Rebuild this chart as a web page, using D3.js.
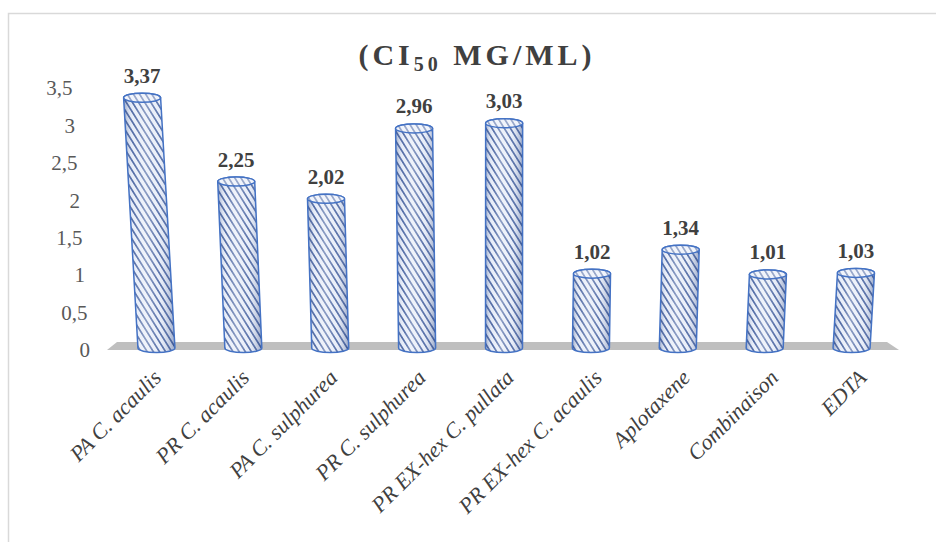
<!DOCTYPE html>
<html>
<head>
<meta charset="utf-8">
<script src="https://cdn.jsdelivr.net/npm/d3@7"></script>
<style>
  html, body { margin: 0; padding: 0; background: #ffffff; }
  svg { display: block; }
</style>
</head>
<body>
<svg id="chart" width="936" height="542"></svg>
<script>
// IC50 values (mg/mL) per extract / compound
const categories = [
  "PA C. acaulis", "PR C. acaulis", "PA C. sulphurea", "PR C. sulphurea",
  "PR EX-hex C. pullata", "PR EX-hex C. acaulis", "Aplotaxene", "Combinaison", "EDTA"
];
const values = [3.37, 2.25, 2.02, 2.96, 3.03, 1.02, 1.34, 1.01, 1.03];
const yTicks = [0, 0.5, 1, 1.5, 2, 2.5, 3, 3.5];

const svg = d3.select("#chart");
const W = 936, H = 542;
const serif = "'Liberation Serif', 'Times New Roman', serif";
const comma = s => s.replace(".", ",");

// chart frame
svg.append("rect").attr("width", W).attr("height", H).attr("fill", "#ffffff");
svg.append("rect")
  .attr("x", 8.5).attr("y", 13.5).attr("width", W + 50).attr("height", H + 50)
  .attr("fill", "none").attr("stroke", "#d9d9d9").attr("stroke-width", 1.5);

// scales
const y = d3.scaleLinear().domain([0, 3.5]).range([350, 88]);
const x = d3.scaleBand().domain(categories).range([113, 895]).paddingInner(0).paddingOuter(0);

// defs: hatch pattern and cylinder shading
const defs = svg.append("defs");
const pat = defs.append("pattern")
  .attr("id", "hatch").attr("patternUnits", "userSpaceOnUse")
  .attr("width", 5.2).attr("height", 10)
  .attr("patternTransform", "rotate(-32)");
pat.append("rect").attr("width", 5.2).attr("height", 10).attr("fill", "#e6ecf8");
pat.append("rect").attr("x", 0).attr("width", 1.7).attr("height", 10).attr("fill", "#44609f");

const shade = defs.append("linearGradient").attr("id", "shade")
  .attr("x1", "0").attr("x2", "1").attr("y1", "0").attr("y2", "0");
[[0, "#1f3a7a", 0.4], [0.18, "#ffffff", 0.08], [0.42, "#ffffff", 0.38],
 [0.7, "#ffffff", 0.12], [1, "#1f3a7a", 0.4]].forEach(([o, c, a]) =>
  shade.append("stop").attr("offset", o).attr("stop-color", c).attr("stop-opacity", a));

// floor
const fx0 = x.range()[0], fx1 = x.range()[1], fy = y(0);
svg.append("path")
  .attr("d", `M${fx0 - 6},${fy} L${fx1 + 4},${fy} L${fx1 - 8},${fy - 8} L${fx0 + 4},${fy - 8} Z`)
  .attr("fill", "#bfbfbf");

// y tick labels, set along the slanted back-wall edge
svg.append("g").selectAll("text").data(yTicks).join("text")
  .attr("x", d => 90 - 5 * d).attr("y", d => y(d)).attr("dy", "0.35em")
  .attr("text-anchor", "end")
  .attr("font-family", serif).attr("font-size", 21).attr("fill", "#595959")
  .text(d => comma(String(d)));

// cylinders, with a slight perspective lean toward a vanishing point below the chart
const vpX = 500, vpDist = 6000;
const r = 18.5, ry = 4.5;
const bars = categories.map((c, i) => {
  const bx = x(c) + x.bandwidth() / 2;
  const by = y(0) - 2;
  const ty = y(values[i]);
  const tx = bx + (bx - vpX) * (by - ty) / vpDist;
  return { c, v: values[i], bx, by, tx, ty };
});

const g = svg.append("g");
bars.forEach(b => {
  const body = `M${b.tx - r},${b.ty} L${b.bx - r},${b.by} A${r},${ry} 0 0 0 ${b.bx + r},${b.by} ` +
               `L${b.tx + r},${b.ty} A${r},${ry} 0 0 0 ${b.tx - r},${b.ty} Z`;
  g.append("path").attr("d", body).attr("fill", "url(#hatch)");
  g.append("path").attr("d", body).attr("fill", "url(#shade)")
    .attr("stroke", "#4472c4").attr("stroke-width", 1.5);
  g.append("ellipse").attr("cx", b.tx).attr("cy", b.ty).attr("rx", r).attr("ry", ry)
    .attr("fill", "url(#hatch)");
  g.append("ellipse").attr("cx", b.tx).attr("cy", b.ty).attr("rx", r).attr("ry", ry)
    .attr("fill", "#ffffff").attr("fill-opacity", 0.45)
    .attr("stroke", "#4472c4").attr("stroke-width", 1.5);
});

// value labels
svg.append("g").selectAll("text").data(bars).join("text")
  .attr("x", d => d.tx).attr("y", d => d.ty - 15)
  .attr("text-anchor", "middle")
  .attr("font-family", serif).attr("font-weight", "bold").attr("font-size", 21)
  .attr("fill", "#404040")
  .text(d => comma(d3.format(".2f")(d.v)));

// category labels, rotated
svg.append("g").selectAll("text").data(bars).join("text")
  .attr("transform", d => `translate(${d.bx + 11 + (d.bx - vpX) * 0.0145},379) rotate(-45)`)
  .attr("text-anchor", "end")
  .attr("font-family", serif).attr("font-style", "italic").attr("font-size", 22)
  .attr("fill", "#404040")
  .text(d => d.c);

// title
const title = svg.append("text")
  .attr("x", 477).attr("y", 65).attr("text-anchor", "middle")
  .attr("font-family", serif).attr("font-weight", "bold").attr("font-size", 30)
  .attr("letter-spacing", 4).attr("fill", "#404040");
title.append("tspan").text("(CI");
title.append("tspan").attr("font-size", 20).attr("dy", 6).text("50");
title.append("tspan").attr("dy", -6).text(" MG/ML)");
</script>
</body>
</html>
